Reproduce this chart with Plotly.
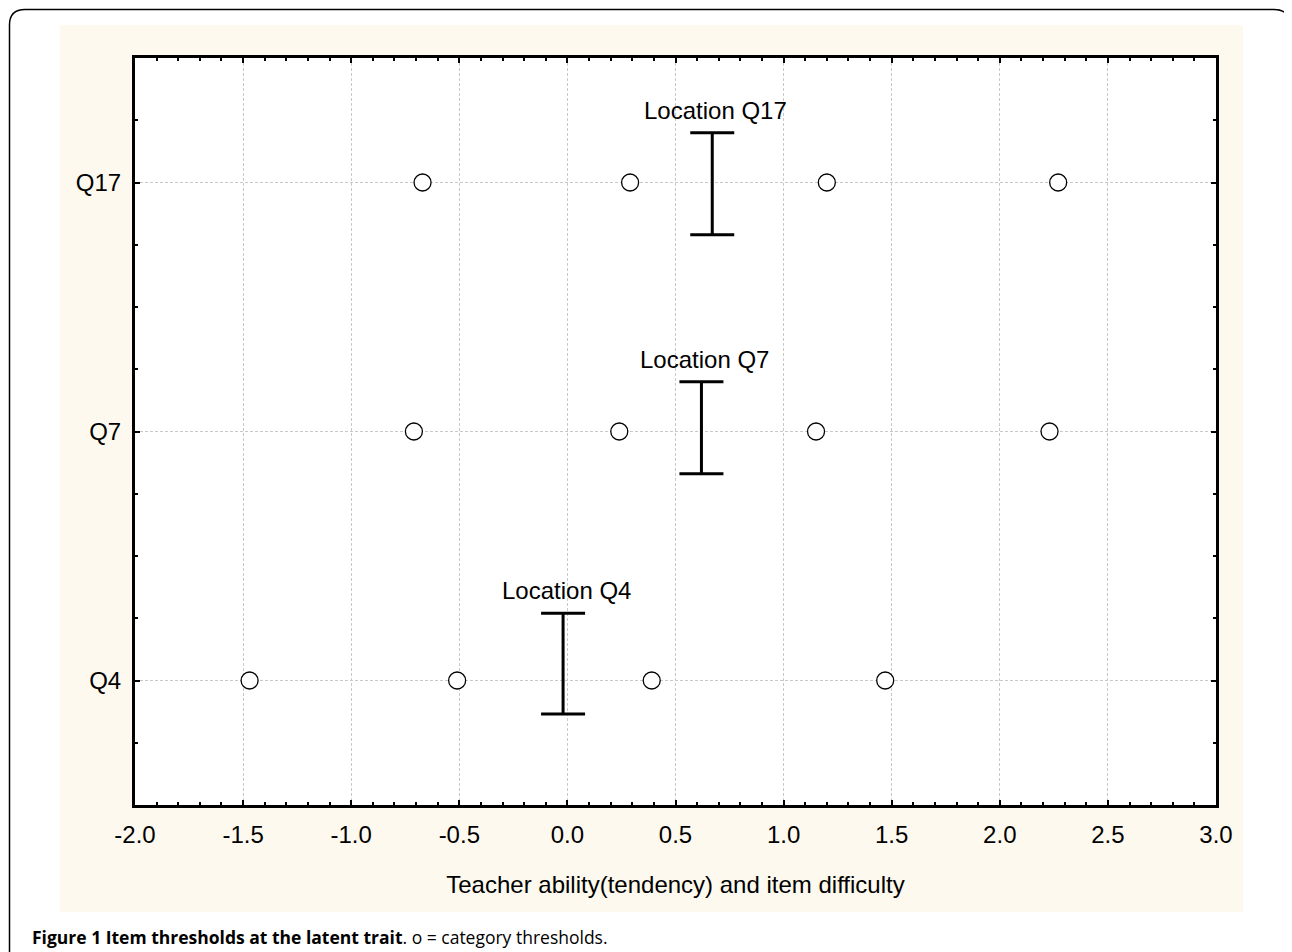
import plotly.graph_objects as go

# ---- data ----
items = ["Q17", "Q7", "Q4"]
item_pos = [3, 2, 1]
thresholds = {
    "Q17": [-0.67, 0.29, 1.20, 2.27],
    "Q7": [-0.71, 0.24, 1.15, 2.23],
    "Q4": [-1.47, -0.51, 0.39, 1.47],
}
location_x = [0.67, 0.62, -0.02]
location_top = [3.20, 2.20, 1.27]
location_bottom = [2.79, 1.83, 0.865]
location_labels = ["Location Q17", "Location Q7", "Location Q4"]

x_ticks = [-2.0, -1.5, -1.0, -0.5, 0.0, 0.5, 1.0, 1.5, 2.0, 2.5, 3.0]
x_title = "Teacher ability(tendency) and item difficulty"
caption_bold = "Figure 1 Item thresholds at the latent trait"
caption_rest = ". o = category thresholds."

# page body has an 8px margin, so the figure is placed at (8, 8)
OFF = 8
W, H = 1292 - OFF, 952 - OFF
L, R, T, B = 135 - OFF, 1216 - OFF, 58 - OFF, 805 - OFF
def px(xp):  # xp in page pixels
    return (xp - OFF - L) / (R - L)
def py(yp):
    return (B - (yp - OFF)) / (B - T)

FONT = "Liberation Sans, Arial, Helvetica, sans-serif"

fig = go.Figure()

# threshold markers
tx, ty = [], []
for it, p in zip(items, item_pos):
    for v in thresholds[it]:
        tx.append(v)
        ty.append(p)
fig.add_trace(go.Scatter(
    x=tx, y=ty, mode="markers",
    marker=dict(symbol="circle", size=17, color="white",
                line=dict(color="black", width=1.3)),
    showlegend=False, hoverinfo="x+y"))

# location bars
fig.add_trace(go.Scatter(
    x=location_x, y=item_pos, mode="markers",
    marker=dict(size=1, color="rgba(0,0,0,0)"),
    error_y=dict(type="data", symmetric=False,
                 array=[t - p for t, p in zip(location_top, item_pos)],
                 arrayminus=[p - b for b, p in zip(location_bottom, item_pos)],
                 width=22, thickness=3, color="black"),
    showlegend=False, hoverinfo="skip"))

annotations = []
for lx, lt, lab in zip(location_x, location_top, location_labels):
    annotations.append(dict(x=lx, y=lt, xref="x", yref="y", text=lab,
                            showarrow=False, yanchor="bottom", xanchor="center",
                            yshift=7, xshift=3,
                            font=dict(family=FONT, size=24, color="black")))

annotations.append(dict(
    x=px(30), y=py(937), xref="paper", yref="paper", xanchor="left", yanchor="middle",
    showarrow=False,
    text="<b>" + caption_bold + "</b>" + caption_rest,
    font=dict(family="Open Sans, Lato, sans-serif", size=17.5, color="black")))

shapes = [
    # beige panel
    dict(type="rect", xref="paper", yref="paper", layer="below",
         x0=px(60), x1=px(1243), y0=py(912), y1=py(25),
         fillcolor="#fdf9ee", line=dict(width=0)),
    # white plot area
    dict(type="rect", xref="paper", yref="paper", layer="below",
         x0=0, x1=1, y0=0, y1=1, fillcolor="white", line=dict(width=0)),
    # outer rounded frame
    dict(type="path", xref="paper", yref="paper", layer="above",
         path=(f"M {px(9.5)},{py(970)} L {px(9.5)},{py(25)} Q {px(9.5)},{py(9.5)} {px(25)},{py(9.5)} "
               f"L {px(1274)},{py(9.5)} Q {px(1290)},{py(9.5)} {px(1290)},{py(25)} "
               f"L {px(1290)},{py(970)}"),
         line=dict(color="black", width=1.5)),
]

axis_common = dict(
    showline=True, linecolor="black", linewidth=3, mirror="ticks",
    ticks="inside", ticklen=5, tickwidth=2, tickcolor="black",
    showgrid=True, gridcolor="#c8c8c8", gridwidth=1, griddash="3px,2px",
    zeroline=False,
    tickfont=dict(family=FONT, size=24, color="black"),
)

fig.update_xaxes(
    range=[-2, 3], tickvals=x_ticks, ticktext=[f"{v:.1f}" for v in x_ticks],
    minor=dict(dtick=0.1, tick0=-2, ticks="inside", ticklen=3, tickwidth=2,
               tickcolor="black", showgrid=False),
    title=dict(text=x_title, font=dict(family=FONT, size=24, color="black"), standoff=30),
    ticklabelstandoff=6,
    **axis_common)
fig.update_yaxes(
    range=[0.5, 3.5], tickvals=item_pos, ticktext=items,
    minor=dict(dtick=0.25, tick0=0.5, ticks="inside", ticklen=3, tickwidth=2,
               tickcolor="black", showgrid=False),
    ticklabelstandoff=6,
    **axis_common)

fig.update_layout(
    width=W, height=H,
    margin=dict(l=L, r=W - R, t=T, b=H - B),
    paper_bgcolor="white", plot_bgcolor="rgba(0,0,0,0)",
    shapes=shapes, annotations=annotations,
    showlegend=False,
)

fig.write_html("out.html")
